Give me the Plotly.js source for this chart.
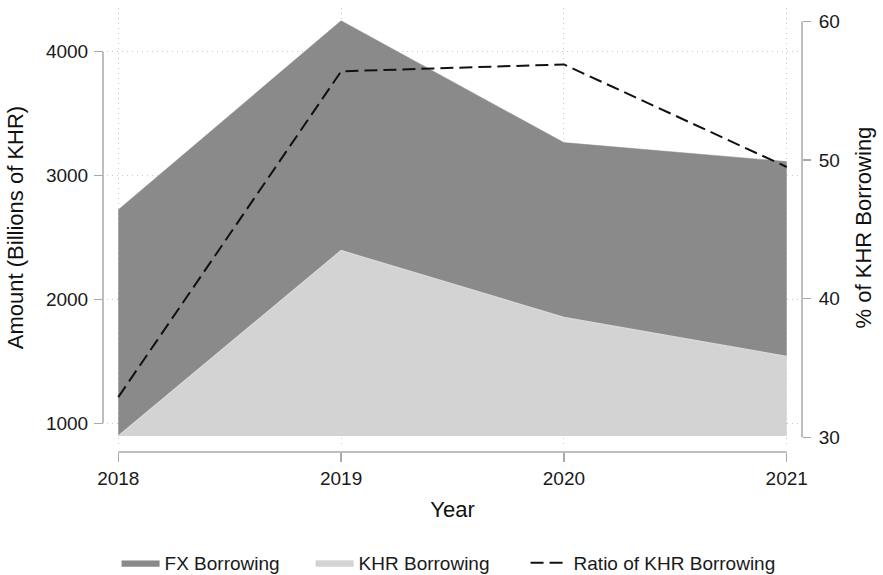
<!DOCTYPE html>
<html>
<head>
<meta charset="utf-8">
<script src="https://cdn.plot.ly/plotly-3.0.1.min.js"></script>
<style>html,body{margin:0;padding:0;background:#fff;}#chart{width:883px;height:575px;}</style>
</head>
<body>
<div id="chart"></div>
<script>
// ---- data ----
const years = [2018, 2019, 2020, 2021];
const khrBorrowing = [898, 2395, 1855, 1540];   // billions of KHR
const fxBorrowing  = [1826, 1855, 1411, 1573];  // billions of KHR (stacked on top of KHR)
const khrRatio     = [32.9, 56.4, 56.9, 49.5];  // % of KHR borrowing
const leftTicks  = [1000, 2000, 3000, 4000];
const rightTicks = [30, 40, 50, 60];

// ---- derived for drawing ----
const areaBase = Math.min(...khrBorrowing);
const baseLine = years.map(() => areaBase);
const totalTop = years.map((_, i) => khrBorrowing[i] + fxBorrowing[i]);

const FONT = 'Liberation Sans, Arial, Helvetica, sans-serif';
const AXC = '#a9a9a9';
const GRID = '#c8c8c8';

const traces = [
  { x: years, y: baseLine, mode: 'lines', line: {width: 0, color: 'rgba(0,0,0,0)'},
    showlegend: false, hoverinfo: 'skip', yaxis: 'y' },
  { x: years, y: khrBorrowing, name: 'KHR Borrowing', mode: 'lines', fill: 'tonexty',
    fillcolor: '#d3d3d3', line: {color: '#dadada', width: 1.2}, legendrank: 2, legendwidth: 162, yaxis: 'y' },
  { x: years, y: totalTop, name: 'FX Borrowing', mode: 'lines', fill: 'tonexty',
    fillcolor: '#8a8a8a', line: {color: '#8a8a8a', width: 0.5}, legendrank: 1, legendwidth: 141, yaxis: 'y' },
  { x: years, y: khrRatio, name: 'Ratio of KHR Borrowing', mode: 'lines',
    line: {color: '#111111', width: 2, dash: '13px,6px'}, legendrank: 3, legendwidth: 202, yaxis: 'y2' }
];

const layout = {
  width: 883, height: 575,
  margin: {l: 103, r: 81, t: 8, b: 123, pad: 0, autoexpand: false},
  paper_bgcolor: '#ffffff', plot_bgcolor: '#ffffff',
  font: {family: FONT, size: 19, color: '#1a1a1a'},
  showlegend: true,
  legend: {orientation: 'h', xref: 'container', yref: 'container',
    x: 0.508, xanchor: 'center', y: 0.021, yanchor: 'middle',
    itemwidth: 38,
    font: {family: FONT, size: 19, color: '#1a1a1a'}, traceorder: 'normal',
    bgcolor: 'rgba(0,0,0,0)'},
  xaxis: {
    domain: [0.0057, 0.9943], anchor: 'free', position: 0,
    range: [2017.9493, 2021.0507],
    tickmode: 'array', tickvals: years, ticktext: years.map(String),
    ticks: 'outside', ticklen: 9, tickwidth: 1.5, tickcolor: AXC,
    showline: false, zeroline: false, automargin: false,
    showgrid: true, gridcolor: GRID, gridwidth: 1, griddash: '1px,4px',
    tickfont: {family: FONT, size: 19, color: '#1a1a1a'},
    title: {text: 'Year', font: {family: FONT, size: 22, color: '#111'}, standoff: 13}
  },
  yaxis: {
    domain: [0.01126, 1], anchor: 'free', position: 0,
    range: [808.7, 4352.8],
    tickmode: 'array', tickvals: leftTicks, ticktext: leftTicks.map(String),
    ticks: 'outside', ticklen: 9, tickwidth: 1.5, tickcolor: AXC, ticklabelstandoff: 2,
    showline: false, zeroline: false, automargin: false,
    showgrid: true, gridcolor: GRID, gridwidth: 1, griddash: '1px,4px',
    tickfont: {family: FONT, size: 19, color: '#1a1a1a'},
    title: {text: 'Amount (Billions of KHR)', font: {family: FONT, size: 22, color: '#111'}, standoff: 15}
  },
  yaxis2: {
    overlaying: 'y', side: 'right', anchor: 'free', position: 1, autoshift: false,
    range: [29.30, 60.97],
    tickmode: 'array', tickvals: rightTicks, ticktext: rightTicks.map(String),
    ticks: 'outside', ticklen: 8, tickwidth: 1.5, tickcolor: AXC, ticklabelstandoff: 4,
    showline: false, zeroline: false, showgrid: false, automargin: false,
    tickfont: {family: FONT, size: 19, color: '#1a1a1a'},
    title: {text: '% of KHR Borrowing', font: {family: FONT, size: 22, color: '#111'}, standoff: 16}
  },
  shapes: [
    {type: 'line', xref: 'paper', yref: 'y', x0: 0, x1: 0,
     y0: leftTicks[0], y1: leftTicks[leftTicks.length - 1], line: {color: AXC, width: 1.5}},
    {type: 'line', xref: 'paper', yref: 'y2', x0: 1, x1: 1,
     y0: rightTicks[0], y1: rightTicks[rightTicks.length - 1], line: {color: AXC, width: 1.5}},
    {type: 'line', xref: 'x', yref: 'paper', y0: 0, y1: 0,
     x0: years[0], x1: years[years.length - 1], line: {color: AXC, width: 1.5}}
  ]
};

Plotly.newPlot('chart', traces, layout, {staticPlot: true, displayModeBar: false});
</script>
</body>
</html>
